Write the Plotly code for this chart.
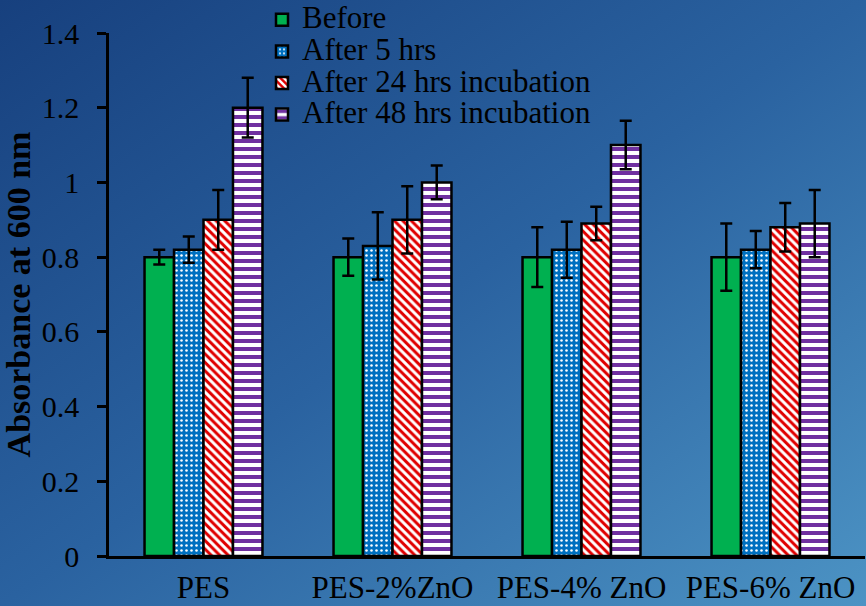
import base64
import plotly.graph_objects as go

categories = ["PES", "PES-2%ZnO", "PES-4% ZnO", "PES-6% ZnO"]
series_names = ["Before", "After 5 hrs", "After 24 hrs incubation", "After 48 hrs incubation"]
before = [0.80, 0.80, 0.80, 0.80]
before_err = [0.02, 0.05, 0.08, 0.09]
after5 = [0.82, 0.83, 0.82, 0.82]
after5_err = [0.035, 0.09, 0.075, 0.05]
after24 = [0.90, 0.90, 0.89, 0.88]
after24_err = [0.08, 0.09, 0.045, 0.065]
after48 = [1.20, 1.00, 1.10, 0.89]
after48_err = [0.08, 0.045, 0.065, 0.09]
y_ticks = [0, 0.2, 0.4, 0.6, 0.8, 1.0, 1.2, 1.4]
y_tick_labels = ["0", "0.2", "0.4", "0.6", "0.8", "1", "1.2", "1.4"]

FONT = "Liberation Serif"

styles = [
    dict(color="#00B050", pattern=dict(shape="")),
    dict(color="#0070C0", pattern=dict(shape=".", fgcolor="white", fgopacity=1, size=5, solidity=0.2, fillmode="overlay")),
    dict(color="#E00000", pattern=dict(shape="\\", fgcolor="white", fgopacity=1, size=6, solidity=0.5, fillmode="overlay")),
    dict(color="white", pattern=dict(shape="-", fgcolor="#7030A0", fgopacity=1, size=8, solidity=0.5, fillmode="overlay")),
]

values = [before, after5, after24, after48]
errors = [before_err, after5_err, after24_err, after48_err]

fig = go.Figure()
for name, vals, errs, st in zip(series_names, values, errors, styles):
    fig.add_trace(go.Bar(
        x=categories, y=vals,
        name='<span style="font-size:31px">' + name + '</span>',
        marker=dict(color=st["color"], pattern=st["pattern"],
                    line=dict(color="black", width=2.5)),
        error_y=dict(type="data", array=errs, visible=True,
                     color="black", thickness=2.5, width=6),
    ))

svg = ('<svg xmlns="http://www.w3.org/2000/svg" width="866" height="606">'
       '<defs><linearGradient id="g" x1="0" y1="0" x2="1" y2="1">'
       '<stop offset="0" stop-color="#17407E"/>'
       '<stop offset="0.5" stop-color="#2A62A0"/>'
       '<stop offset="1" stop-color="#4C93C4"/>'
       '</linearGradient></defs>'
       '<rect width="866" height="606" fill="url(#g)"/></svg>')
src = "data:image/svg+xml;base64," + base64.b64encode(svg.encode()).decode()

L, R, T, B = 109, 1, 33, 50
W, H = 866, 606
pw, ph = W - L - R, H - T - B

fig.update_layout(
    width=W, height=H,
    margin=dict(l=L, r=R, t=T, b=B, autoexpand=False),
    paper_bgcolor="#2A62A0",
    plot_bgcolor="rgba(0,0,0,0)",
    barmode="group", bargap=0.376, bargroupgap=0,
    font=dict(family=FONT, color="black", size=30),
    images=[dict(source=src, xref="paper", yref="paper",
                 x=-L / pw, y=1 + T / ph, sizex=W / pw, sizey=H / ph,
                 xanchor="left", yanchor="top", sizing="stretch", layer="below")],
    legend=dict(x=(262 - L) / pw, y=1 + (T + 1) / ph, xanchor="left", yanchor="top",
                bgcolor="rgba(0,0,0,0)", font=dict(family=FONT, size=22, color="black"),
                itemwidth=30, tracegroupgap=0),
    showlegend=True,
)
fig.update_xaxes(showline=True, linecolor="black", linewidth=2.5, ticks="",
                 automargin=False, ticklabelstandoff=2,
                 tickfont=dict(family=FONT, size=31, color="black"), showgrid=False)
fig.update_yaxes(range=[0, 1.4], tickvals=y_ticks, ticktext=y_tick_labels,
                 automargin=False,
                 showline=True, linecolor="black", linewidth=2.5,
                 ticks="outside", ticklen=9, tickwidth=2.5, tickcolor="black",
                 ticklabelstandoff=12,
                 tickfont=dict(family=FONT, size=30, color="black"),
                 showgrid=False, zeroline=False,
                 title=dict(text="<b>Absorbance at 600 nm</b>",
                            font=dict(family=FONT, size=34, color="black"), standoff=8))

fig.write_html("out.html", config={"displayModeBar": False},
               post_script="document.body.style.margin='0';")
